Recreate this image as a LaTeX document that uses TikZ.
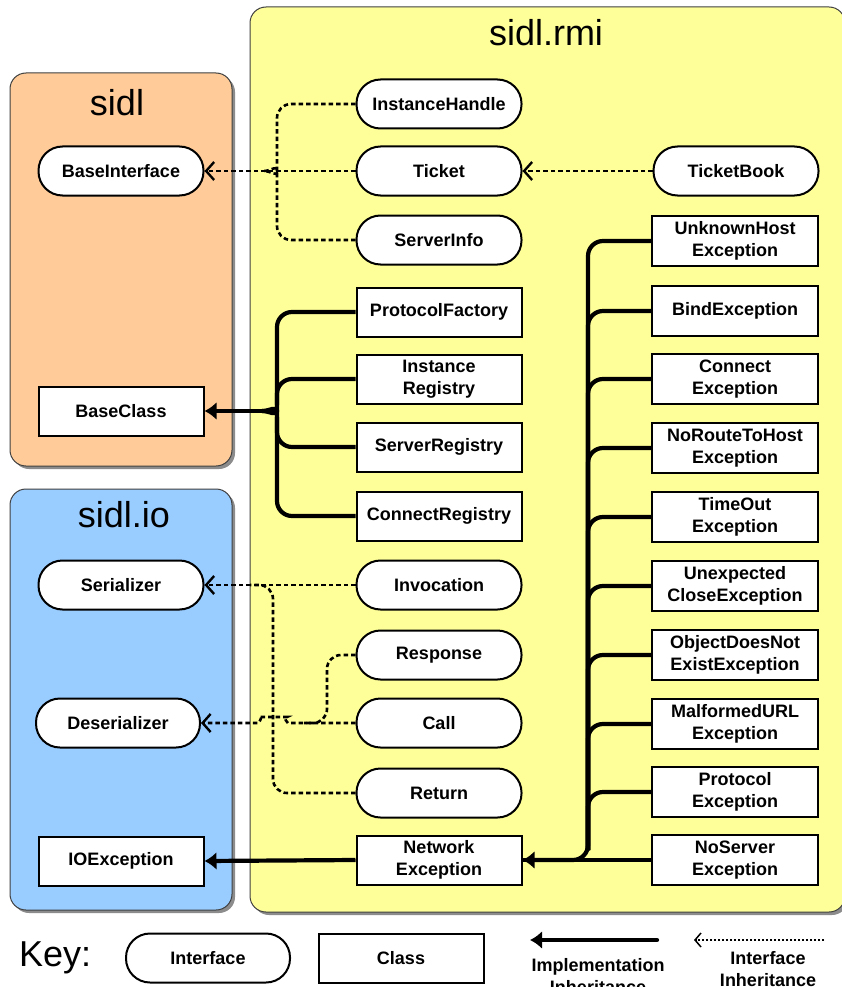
\documentclass[tikz,border=0pt]{standalone}
\usepackage{fontspec}
\setmainfont{Liberation Sans}
\usetikzlibrary{arrows.meta}
\definecolor{pyellow}{HTML}{FFFF99}
\definecolor{porange}{HTML}{FFCC99}
\definecolor{pblue}{HTML}{99CCFF}
\begin{document}
\begin{tikzpicture}[x=1pt,y=-1pt,
 nodefont/.style={font=\bfseries\fontsize{18}{22}\selectfont},
 iface/.style={draw, line width=2pt, rounded corners=24pt, minimum width=165pt, minimum height=49pt, fill=white, nodefont, align=center, inner sep=0pt},
 cls/.style={draw, line width=2pt, minimum width=165pt, minimum height=49pt, fill=white, nodefont, align=center, inner sep=0pt},
 exc/.style={cls, minimum width=166pt, minimum height=50pt},
 panel/.style={draw=black!75, line width=1pt, rounded corners=16pt},
 shadow/.style={fill=black!45, rounded corners=16pt},
 title/.style={font=\fontsize{36}{40}\selectfont, inner sep=0pt},
 impl/.style={line width=4.2pt, rounded corners=15pt},
 implarrow/.style={impl, -{Latex[length=12pt,width=18pt]}},
 intf/.style={line width=2.6pt, dash pattern=on 4.5pt off 3pt, rounded corners=14pt},
 intfarrow/.style={intf, -{Straight Barb[length=8pt,width=18pt,line width=2.4pt]}}
]
\useasboundingbox (0,0) rectangle (841,987);
\fill[white] (0,0) rectangle (841,987);
% panels
\fill[shadow] (253,10) rectangle (848,915);
\fill[shadow] (13,76) rectangle (235,469);
\fill[shadow] (13,492) rectangle (235,913);
\fill[pyellow, panel] (250,7) rectangle (845,912);
\fill[porange, panel] (10,73) rectangle (232,466);
\fill[pblue, panel] (10,489) rectangle (232,910);
\node[title] (trmi) at (546,33) {sidl.rmi};
\node[title] (tsidl) at (117,103) {sidl};
\node[title] (tio) at (124,515) {sidl.io};

% nodes
\node[iface] (ih) at (439,104) {InstanceHandle};
\node[iface] (tk) at (439,171) {Ticket};
\node[iface] (si) at (439,240) {ServerInfo};
\node[iface] (tb) at (736,171) {TicketBook};
\node[iface] (bi) at (121,171) {BaseInterface};
\node[cls] (pf) at (439,312) {ProtocolFactory};
\node[cls] (ir) at (439,379) {Instance\\Registry};
\node[cls] (sr) at (439,447) {ServerRegistry};
\node[cls] (cr) at (439,516) {ConnectRegistry};
\node[cls] (bc) at (121,411) {BaseClass};
\node[iface] (inv) at (439,585) {Invocation};
\node[iface] (resp) at (439,655) {Response};
\node[iface] (call) at (439,723) {Call};
\node[iface] (ret) at (439,793) {Return};
\node[cls] (ne) at (439,860) {Network\\Exception};
\node[iface] (ser) at (121,585) {Serializer};
\node[iface, minimum width=164pt] (des) at (118,723) {Deserializer};
\node[cls] (ioe) at (121,861) {IOException};
\node[exc] (e1) at (735,241) {UnknownHost\\Exception};
\node[exc] (e2) at (735,311) {BindException};
\node[exc] (e3) at (735,379) {Connect\\Exception};
\node[exc] (e4) at (735,448) {NoRouteToHost\\Exception};
\node[exc] (e5) at (735,517) {TimeOut\\Exception};
\node[exc] (e6) at (735,586) {Unexpected\\CloseException};
\node[exc] (e7) at (735,655) {ObjectDoesNot\\ExistException};
\node[exc] (e8) at (735,724) {MalformedURL\\Exception};
\node[exc] (e9) at (735,792) {Protocol\\Exception};
\node[exc] (e10) at (735,860) {NoServer\\Exception};

% interface inheritance: Ticket group
\coordinate (jt) at (264,171);
\draw[intfarrow] (tk.west) -- (bi.east);
\draw[intf] (ih.west) -| (277,157) to[out=-90,in=0] (jt);
\draw[intf] (si.west) -| (277,185) to[out=90,in=0] (jt);
\draw[intfarrow] (tb.west) -- (tk.east);

% implementation: BaseClass group
\coordinate (jb) at (262,411);
\draw[implarrow] (jb) -- (bc.east);
\draw[impl] (pf.west) -| (277,397) to[out=-90,in=0] (jb);
\draw[impl] (cr.west) -| (277,425) to[out=90,in=0] (jb);
\draw[impl] (ir.west) -| (277,405);
\draw[impl] (sr.west) -| (277,417);

% exceptions bus
\draw[implarrow] (e1.west) -| (588,860) -- (ne.east);
\foreach \e in {e2,e3,e4,e5,e6,e7,e8,e9}
  \draw[impl] (\e.west) -| (588,850);
\draw[impl] (e10.west) -- (ne.east);
\draw[implarrow] (ne.west) -- (ioe.east);

% Serializer / Deserializer
\draw[intfarrow] (inv.west) -- (ser.east);
\draw[intf] (ret.west) -| (273,585) -- (250,585);
\coordinate (jd) at (273,717);
\draw[intfarrow] (call.west) -- (302,723) .. controls (288,723) and (282,717) .. (jd)
  .. controls (264,717) and (258,723) .. (244,723) -- (des.east);
\draw[intf] (resp.west) -| (327,723) -- (304,723);

% key
\node[title, anchor=west] (key) at (19,958) {Key:};
\node[iface, minimum width=164pt] (kint) at (208,958) {Interface};
\node[cls] (kcls) at (401,958) {Class};
\coordinate (ka1) at (657,940);
\coordinate (ka2) at (530,940);
\draw[implarrow, line cap=round] (ka1) -- (ka2);
\node[nodefont, align=center] (kimpl) at (598,976) {Implementation\\Inheritance};
\coordinate (kb1) at (824,940);
\coordinate (kb2) at (694,940);
\draw[line width=1.5pt, dash pattern=on 2pt off 2pt, -{Straight Barb[length=6pt,width=14pt,line width=1.5pt]}] (kb1) -- (kb2);
\node[nodefont, align=center] (kintf) at (768,969) {Interface\\Inheritance};
\end{tikzpicture}
\end{document}
